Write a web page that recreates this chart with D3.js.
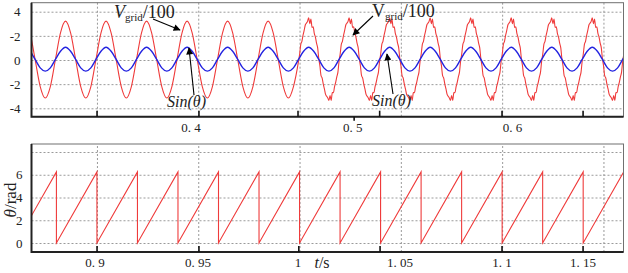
<!DOCTYPE html>
<html lang="en">
<head>
<meta charset="utf-8">
<title>Vgrid / theta</title>
<script src="https://cdn.jsdelivr.net/npm/d3@7"></script>
<style>
body { margin: 0; background: #fff; }
svg text { font-family: "Liberation Serif", "DejaVu Serif", serif; fill: #222; }
</style>
</head>
<body>
<script type="text/javascript">

var width = 628;
var height = 273;
var serif = "'Liberation Serif', 'DejaVu Serif', serif";

// ---- values ----
var period = 0.02;   // s, one grid cycle

// crest times of Vgrid/100 and Sin(theta) in the top window (s)
var crestTimes = [0.3145, 0.3345, 0.3545, 0.3745, 0.3945, 0.4145, 0.4345, 0.4545,
                  0.4745, 0.4945, 0.5145, 0.5345, 0.5545, 0.5745, 0.5945, 0.6145];
// one cycle, starting at the crest, before the distortion (8 readings)
var vgridClean = [3.22, 2.25, 0.02, -2.2, -3.15, -2.2, 0.02, 2.25];
// one cycle after the distortion starts (36 readings, every 10 deg)
var vgridDistorted = [3.5, 3.0, 3.4, 2.7, 2.75, 2.2, 1.9, 1.4, 1.0, 0.1, -0.5, -1.3,
                      -1.5, -2.0, -2.4, -2.85, -3.0, -3.15, -3.35, -2.95, -3.35, -2.7, -2.7, -2.2,
                      -1.85, -1.4, -1.0, -0.1, 0.5, 1.3, 1.55, 2.05, 2.45, 2.9, 3.05, 3.2];
var distortStart = 0.449;
var sinCycle = [1.05, 0.72, 0.05, -0.65, -0.92, -0.65, 0.05, 0.72];

// theta wraps back to 0 at these times (bottom window)
var thetaResets = [0.86, 0.88, 0.90, 0.92, 0.94, 0.96, 0.98, 1.00, 1.02, 1.04,
                   1.06, 1.08, 1.10, 1.12, 1.14, 1.16, 1.18];
var thetaMax = 6.25;

// axes
var topGridX = [0.35, 0.40, 0.45, 0.50, 0.55, 0.60];
var topTickX = [0.3498, 0.4001, 0.449, 0.4893, 0.5497, 0.5897];
var topTickXOut = [0.4767];
var topLabelX = [0.3962, 0.4760, 0.5549];
var topLabelText = ["0. 4", "0. 5", "0. 6"];
var topY = [4, 2, 0, -2, -4];
var topYText = ["4", "-2", "0", "-2", "-4"];

var botGridX = [0.90, 0.95, 1.00, 1.05, 1.10, 1.15];
var botTickX = [0.8998, 0.9501, 0.9994, 1.0395, 1.0997, 1.1397];
var botLabelX = [0.8988, 0.9496, 0.9990, 1.0493, 1.0997, 1.1397];
var botLabelText = ["0. 9", "0. 95", "1", "1. 05", "1. 1", "1. 15"];
var botY = [0, 2, 4, 6, 8];
var botYText = ["0", "2", "4", "6", ""];

// ---- layout ----
var left = 31.5, right = 623.5;
var top1 = 2.7, bot1 = 116.7;
var top2 = 144, bot2 = 252;

var svg = d3.select("body").append("svg")
    .attr("width", width)
    .attr("height", height);

var defs = svg.append("defs");
defs.append("clipPath").attr("id", "clip1").append("rect")
    .attr("x", left).attr("y", top1).attr("width", right - left).attr("height", bot1 - top1);
defs.append("clipPath").attr("id", "clip2").append("rect")
    .attr("x", left).attr("y", top2).attr("width", right - left).attr("height", bot2 - top2);
defs.append("marker")
    .attr("id", "arrow")
    .attr("viewBox", "0 0 10 10")
    .attr("refX", 9).attr("refY", 5)
    .attr("markerWidth", 9).attr("markerHeight", 7)
    .attr("markerUnits", "userSpaceOnUse")
    .attr("orient", "auto")
    .append("path").attr("d", "M0,0 L10,5 L0,10 z").attr("fill", "#000");

var x1 = d3.scaleLinear().domain([0.3177, 0.6099]).range([left, right]);
var y1 = d3.scaleLinear().domain([-4, 4]).range([108.3, 11.7]);
var x2 = d3.scaleLinear().domain([0.8677, 1.1599]).range([left, right]);
var y2 = d3.scaleLinear().domain([0, 8]).range([243, 152]);

function grid(g) {
    g.selectAll(".domain").remove();
    g.selectAll(".tick text").remove();
    g.selectAll(".tick line")
        .attr("stroke", "#9a9a9a")
        .attr("stroke-width", 1)
        .attr("stroke-dasharray", "2,2");
}

function panel(x, y, yTop, yBot, gridX, gridY) {
    svg.append("g")
        .attr("transform", "translate(0," + yBot + ")")
        .call(d3.axisBottom(x).tickValues(gridX).tickSize(-(yBot - yTop)))
        .call(grid);
    svg.append("g")
        .attr("transform", "translate(" + left + ",0)")
        .call(d3.axisLeft(y).tickValues(gridY).tickSize(-(right - left)))
        .call(grid);
}

panel(x1, y1, top1, bot1, topGridX, topY);
panel(x2, y2, top2, bot2, botGridX, botY);

// ---- top panel curves ----
var redPts = [];
var bluePts = [];
crestTimes.forEach(function (c) {
    vgridClean.forEach(function (v, i) {
        var t = c + i * period / vgridClean.length;
        if (t < distortStart) redPts.push([t, v]);
    });
    vgridDistorted.forEach(function (v, i) {
        var t = c + i * period / vgridDistorted.length;
        if (t >= distortStart) redPts.push([t, v]);
    });
    sinCycle.forEach(function (v, i) {
        bluePts.push([c + i * period / sinCycle.length, v]);
    });
});
redPts.sort(function (a, b) { return a[0] - b[0]; });

var line1 = d3.line()
    .x(function (d) { return x1(d[0]); })
    .y(function (d) { return y1(d[1]); })
    .curve(d3.curveMonotoneX);

svg.append("path")
    .datum(redPts)
    .attr("clip-path", "url(#clip1)")
    .attr("d", line1)
    .attr("fill", "none")
    .attr("stroke", "#ef3b3b")
    .attr("stroke-width", 1.1);

svg.append("path")
    .datum(bluePts)
    .attr("clip-path", "url(#clip1)")
    .attr("d", line1)
    .attr("fill", "none")
    .attr("stroke", "#2323e0")
    .attr("stroke-width", 1.4);

// ---- bottom panel sawtooth ----
var thetaPts = [];
thetaResets.forEach(function (r, i) {
    if (i > 0) thetaPts.push([r, thetaMax]);
    thetaPts.push([r, 0]);
});

svg.append("path")
    .datum(thetaPts)
    .attr("clip-path", "url(#clip2)")
    .attr("d", d3.line()
        .x(function (d) { return x2(d[0]); })
        .y(function (d) { return y2(d[1]); }))
    .attr("fill", "none")
    .attr("stroke", "#ef3b3b")
    .attr("stroke-width", 1.1);

// ---- frames ----
function frame(yTop, yBot) {
    svg.append("rect")
        .attr("x", left).attr("y", yTop)
        .attr("width", right - left).attr("height", yBot - yTop)
        .attr("fill", "none").attr("stroke", "#707070").attr("stroke-width", 1);
    svg.append("path")
        .attr("d", "M" + left + "," + yTop + "V" + yBot + "H" + right)
        .attr("fill", "none").attr("stroke", "#222").attr("stroke-width", 2);
}
frame(top1, bot1);
frame(top2, bot2);

// ---- ticks and labels ----
function ticks(x, yBot, vals, size) {
    svg.append("g")
        .attr("transform", "translate(0," + yBot + ")")
        .call(d3.axisBottom(x).tickValues(vals).tickSize(size).tickFormat(""))
        .call(function (g) {
            g.select(".domain").remove();
            g.selectAll(".tick line").attr("stroke", "#111").attr("stroke-width", 1.6);
        });
}
function labels(x, yBase, vals, texts) {
    svg.append("g")
        .attr("transform", "translate(0," + yBase + ")")
        .call(d3.axisBottom(x).tickValues(vals).tickSize(0).tickPadding(0)
            .tickFormat(function (d, i) { return texts[i]; }))
        .call(function (g) {
            g.select(".domain").remove();
            g.attr("font-family", null);
            g.selectAll(".tick text")
                .style("font-family", serif)
                .attr("font-size", 13)
                .attr("fill", "#222")
                .attr("dy", 0);
        });
}

ticks(x1, bot1, topTickX, -6);
ticks(x1, bot1, topTickXOut, 4);
labels(x1, 132, topLabelX, topLabelText);
ticks(x2, bot2, botTickX, -6);
labels(x2, 267, botLabelX, botLabelText);

function yLabels(y, vals, texts, pad) {
    svg.append("g")
        .attr("transform", "translate(" + left + ",0)")
        .call(d3.axisLeft(y).tickValues(vals).tickSize(0).tickPadding(pad)
            .tickFormat(function (d, i) { return texts[i]; }))
        .call(function (g) {
            g.select(".domain").remove();
            g.attr("font-family", null);
            g.selectAll(".tick text")
                .style("font-family", serif)
                .attr("font-size", 13)
                .attr("fill", "#222");
        });
}
yLabels(y1, topY, topYText, 11);
yLabels(y2, botY, botYText, 9);

// axis titles
var yt = svg.append("text")
    .attr("transform", "translate(16,200) rotate(-90)")
    .attr("text-anchor", "middle")
    .attr("font-size", 17);
yt.append("tspan").attr("font-style", "italic").text("θ");
yt.append("tspan").text("/rad");

var xt = svg.append("text")
    .attr("x", 322).attr("y", 268)
    .attr("text-anchor", "middle")
    .attr("font-size", 16);
xt.append("tspan").attr("font-style", "italic").text("t");
xt.append("tspan").text("/s");

// ---- annotations ----
function vgridLabel(xPos, yPos, italic) {
    var t = svg.append("text").attr("x", xPos).attr("y", yPos).attr("font-size", 18);
    t.append("tspan").attr("font-style", italic ? "italic" : "normal").text("V");
    t.append("tspan").attr("font-size", 11).attr("dy", 3).text("grid");
    t.append("tspan").attr("dy", -3).text("/100");
}
function sinLabel(xPos, yPos) {
    svg.append("text").attr("x", xPos).attr("y", yPos)
        .attr("font-size", 16).attr("font-style", "italic").text("Sin(θ)");
}
function arrow(xa, ya, xb, yb) {
    svg.append("line")
        .attr("x1", xa).attr("y1", ya).attr("x2", xb).attr("y2", yb)
        .attr("stroke", "#000").attr("stroke-width", 1.1)
        .attr("marker-end", "url(#arrow)");
}

vgridLabel(114, 18, true);
arrow(153, 19, 180, 30);
sinLabel(167, 107);
arrow(194, 95, 189, 48);

vgridLabel(372, 17, false);
arrow(373, 16, 353, 35);
sinLabel(372, 106);
arrow(393, 94, 387, 54);

</script>
</body>
</html>
